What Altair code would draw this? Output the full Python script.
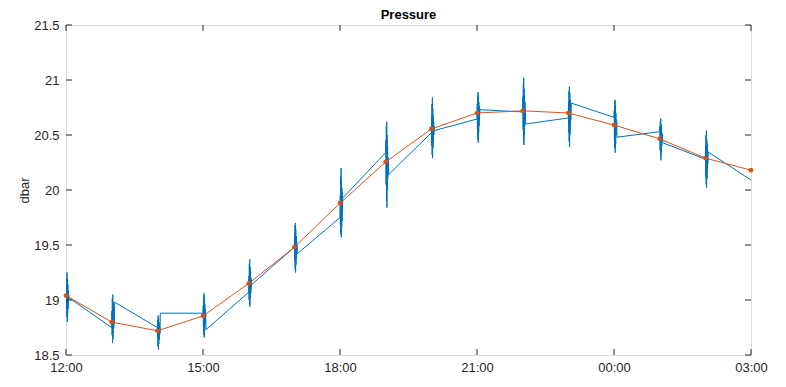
import altair as alt
import pandas as pd

# ---- data ----
# hour of day (12 = 12:00, 24 = 00:00, 27 = 03:00)
MEAN_HOURS = [12, 13, 14, 15, 16, 17, 18, 19, 20, 21, 22, 23, 24, 25, 26, 27]
MEAN_DBAR = [19.04, 18.80, 18.72, 18.855, 19.15, 19.48, 19.88, 20.255,
             20.555, 20.70, 20.72, 20.70, 20.59, 20.465, 20.29, 20.18]

# minute offsets of the samples inside one burst
BURST_MINUTES = [0, 0.3, 0.55, 0.85, 1.1, 1.4, 1.65, 1.95, 2.2, 2.5, 2.75, 3.05, 3.3, 3.6, 3.9]

BURST_12 = [19.03, 19.12, 18.93, 19.20, 18.85, 19.25, 18.80, 19.18, 18.88, 19.14, 18.92, 19.08, 18.97, 19.05, 19.02]
BURST_13 = [18.75, 18.90, 18.68, 19.02, 18.61, 19.05, 18.64, 18.98, 18.70, 18.93, 18.74, 18.88, 18.78, 18.85, 18.98]
BURST_14 = [18.75, 18.66, 18.82, 18.58, 18.86, 18.55, 18.84, 18.60, 18.80, 18.64, 18.78, 18.68, 18.75, 18.70, 18.88]
BURST_15 = [18.88, 18.95, 18.76, 19.04, 18.68, 19.06, 18.66, 19.00, 18.72, 18.96, 18.78, 18.92, 18.82, 18.88, 18.73]
BURST_16 = [19.07, 19.22, 19.00, 19.33, 18.96, 19.37, 18.94, 19.30, 19.02, 19.26, 19.06, 19.20, 19.10, 19.18, 19.14]
BURST_17 = [19.48, 19.60, 19.35, 19.68, 19.28, 19.70, 19.25, 19.64, 19.32, 19.58, 19.38, 19.54, 19.44, 19.50, 19.42]
BURST_18 = [19.75, 19.95, 19.68, 20.12, 19.60, 20.20, 19.57, 20.08, 19.65, 20.02, 19.72, 19.98, 19.80, 19.92, 19.93]
BURST_19 = [20.34, 20.45, 20.05, 20.58, 19.90, 20.62, 19.84, 20.50, 20.00, 20.40, 20.10, 20.30, 20.18, 20.26, 20.14]
BURST_20 = [20.52, 20.66, 20.40, 20.78, 20.32, 20.84, 20.29, 20.74, 20.38, 20.68, 20.44, 20.62, 20.50, 20.58, 20.54]
BURST_21 = [20.645, 20.78, 20.55, 20.86, 20.46, 20.89, 20.43, 20.84, 20.52, 20.80, 20.58, 20.76, 20.64, 20.70, 20.73]
BURST_22 = [20.71, 20.85, 20.55, 20.96, 20.45, 21.02, 20.41, 20.92, 20.50, 20.86, 20.58, 20.80, 20.64, 20.74, 20.60]
BURST_23 = [20.655, 20.80, 20.52, 20.90, 20.44, 20.94, 20.39, 20.88, 20.50, 20.82, 20.58, 20.76, 20.64, 20.72, 20.79]
BURST_00 = [20.66, 20.72, 20.45, 20.80, 20.38, 20.82, 20.34, 20.76, 20.42, 20.70, 20.50, 20.64, 20.56, 20.62, 20.48]
BURST_01 = [20.53, 20.58, 20.36, 20.63, 20.30, 20.65, 20.27, 20.60, 20.34, 20.56, 20.40, 20.52, 20.44, 20.50, 20.43]
BURST_02 = [20.28, 20.40, 20.12, 20.50, 20.05, 20.54, 20.02, 20.46, 20.10, 20.42, 20.18, 20.36, 20.24, 20.32, 20.345]
BURST_03 = [20.09]

X_TICKS = [12, 15, 18, 21, 24, 27]
Y_TICKS = [18.5, 19, 19.5, 20, 20.5, 21, 21.5]

# ---- build tables ----
bursts = [BURST_12, BURST_13, BURST_14, BURST_15, BURST_16, BURST_17, BURST_18, BURST_19,
          BURST_20, BURST_21, BURST_22, BURST_23, BURST_00, BURST_01, BURST_02, BURST_03]
rows = []
for h, b in zip(MEAN_HOURS, bursts):
    for m, v in zip(BURST_MINUTES, b):
        rows.append({"t": h + m / 60.0, "v": v})
blue_df = pd.DataFrame(rows)
mean_df = pd.DataFrame({"t": MEAN_HOURS, "v": MEAN_DBAR})
xt_df = pd.DataFrame({"t": X_TICKS})
yt_df = pd.DataFrame({"v": Y_TICKS})

W, H = 685, 330
FONT = "Liberation Sans"
TXT = "#262626"

xscale = alt.Scale(domain=[12, 27], nice=False, zero=False)
yscale = alt.Scale(domain=[18.5, 21.5], nice=False, zero=False)

xaxis = alt.Axis(values=X_TICKS, ticks=False, domain=False, grid=False, title=None,
                 labelExpr="(datum.value % 24 < 10 ? '0' : '') + (datum.value % 24) + ':00'",
                 labelPadding=6, labelFont=FONT, labelFontSize=13, labelColor=TXT,
                 labelFlush=False, labelOverlap=False)
yaxis = alt.Axis(values=Y_TICKS, ticks=False, domain=False, grid=False, title="dbar",
                 labelExpr="datum.value + ''", labelPadding=7, labelFont=FONT,
                 labelFontSize=13, labelColor=TXT, titleFont=FONT, titleFontSize=13,
                 titleFontWeight="normal", titleColor=TXT, titlePadding=2,
                 labelFlush=False, labelOverlap=False)

blue = alt.Chart(blue_df).mark_line(color="#0072BD", strokeWidth=1, clip=True).encode(
    x=alt.X("t:Q", scale=xscale, axis=xaxis),
    y=alt.Y("v:Q", scale=yscale, axis=yaxis),
    order="t:Q",
)
orange = alt.Chart(mean_df).mark_line(
    color="#D95319", strokeWidth=1,
    point=alt.OverlayMarkDef(filled=True, size=22, color="#D95319", opacity=1),
).encode(x=alt.X("t:Q", scale=xscale), y=alt.Y("v:Q", scale=yscale))

tick_len = 6
xt_bottom = alt.Chart(xt_df).mark_rule(color=TXT, strokeWidth=1).encode(
    x=alt.X("t:Q", scale=xscale), y=alt.value(H), y2=alt.value(H - tick_len))
xt_top = alt.Chart(xt_df).mark_rule(color=TXT, strokeWidth=1).encode(
    x=alt.X("t:Q", scale=xscale), y=alt.value(0), y2=alt.value(tick_len))
yt_left = alt.Chart(yt_df).mark_rule(color=TXT, strokeWidth=1).encode(
    y=alt.Y("v:Q", scale=yscale), x=alt.value(0), x2=alt.value(tick_len))
yt_right = alt.Chart(yt_df).mark_rule(color=TXT, strokeWidth=1).encode(
    y=alt.Y("v:Q", scale=yscale), x=alt.value(W), x2=alt.value(W - tick_len))

chart = alt.layer(blue, orange, xt_bottom, xt_top, yt_left, yt_right).properties(
    width=W, height=H,
    title=alt.TitleParams("Pressure", font=FONT, fontSize=13, fontWeight="bold",
                          color="#000000", offset=-3, anchor="middle"),
    autosize=alt.AutoSizeParams(type="none"),
    padding={"left": 58, "top": 17, "right": 20, "bottom": 22},
).configure_view(stroke=TXT, strokeWidth=1).configure(background="white")

chart.save("out.html", embed_options={"renderer": "svg", "actions": False})
